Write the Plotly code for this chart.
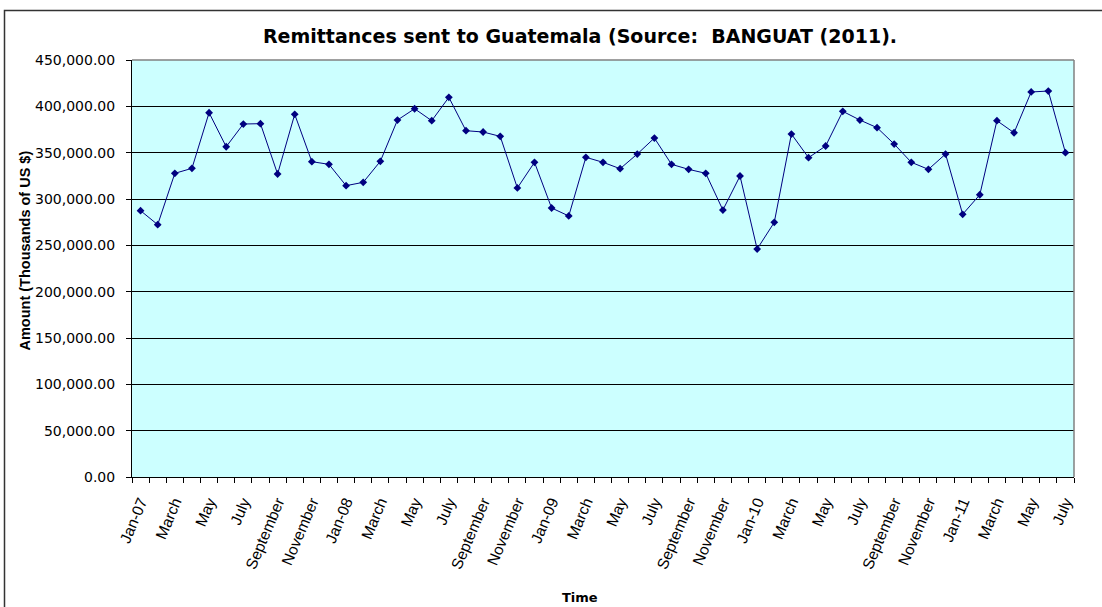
import plotly.graph_objects as go

# Monthly remittances, January 2007 to July 2011 (thousands of US $)
months = [
    "Jan-07", "February", "March", "April", "May", "June", "July", "August",
    "September", "October", "November", "December",
    "Jan-08", "February", "March", "April", "May", "June", "July", "August",
    "September", "October", "November", "December",
    "Jan-09", "February", "March", "April", "May", "June", "July", "August",
    "September", "October", "November", "December",
    "Jan-10", "February", "March", "April", "May", "June", "July", "August",
    "September", "October", "November", "December",
    "Jan-11", "February", "March", "April", "May", "June", "July",
]
amounts = [
    287400, 272300, 327700, 333100, 393100, 356400, 380900, 381300,
    327000, 391400, 340300, 337400,
    314400, 318000, 340700, 385200, 397400, 384500, 409700, 373700,
    372300, 367600, 311900, 339600,
    290300, 281700, 345000, 339600, 332700, 348500, 365800, 337400,
    332000, 327700, 288100, 324800,
    246000, 274800, 370100, 344600, 357200, 394600, 385200, 377000,
    359300, 339600, 332000, 348500,
    283500, 304600, 384500, 371500, 415500, 416500, 350000,
]

ARIAL = "Arial, Liberation Sans, sans-serif"
WIDE = "DejaVu Sans, Arial, sans-serif"
idx = list(range(len(months)))
label_idx = idx[::2]
label_txt = [months[i] for i in label_idx]
boundaries = [i - 0.5 for i in range(len(months) + 1)]
xrange_ = [-0.5, len(months) - 0.5]

# plot area in pixels: x 132..1074, y 60..477
PL, PR, PT, PB = 132, 1074, 60, 477
PW, PH = PR - PL, PB - PT

fig = go.Figure()
fig.add_trace(go.Scatter(
    x=idx, y=amounts, mode="lines+markers",
    line=dict(color="#000080", width=1),
    marker=dict(symbol="diamond", size=6, color="#000080"),
    showlegend=False, hoverinfo="skip",
))
# helper trace so the label axis is rendered
fig.add_trace(go.Scatter(
    x=[0], y=[0], xaxis="x2", mode="markers",
    marker=dict(opacity=0), showlegend=False, hoverinfo="skip",
))

fig.update_layout(
    width=1102, height=607,
    margin=dict(l=PL, r=1102 - PR, t=PT, b=607 - PB),
    paper_bgcolor="white",
    plot_bgcolor="#CCFFFF",
    font=dict(family=ARIAL, color="black", size=13),
    title=dict(
        text="<b>Remittances sent to Guatemala (Source:  BANGUAT (2011).</b>",
        font=dict(family=WIDE, size=19, color="black"),
        x=580 / 1102, xref="container", xanchor="center",
        y=1 - 36 / 607, yref="container", yanchor="middle",
    ),
    xaxis=dict(
        range=xrange_, tickmode="array", tickvals=boundaries,
        ticktext=[""] * len(boundaries),
        ticks="outside", ticklen=5, tickcolor="black", tickwidth=1,
        showgrid=False, zeroline=False,
        showline=True, linecolor="black", linewidth=1,
    ),
    xaxis2=dict(
        range=xrange_, overlaying="x", side="bottom", matches="x",
        tickmode="array", tickvals=label_idx, ticktext=label_txt,
        tickangle=-67, ticks="", showgrid=False, zeroline=False,
        showline=False, ticklabelstandoff=12,
        tickfont=dict(family=ARIAL, size=15.5, color="black"),
    ),
    yaxis=dict(
        range=[0, 450000], tickmode="linear", tick0=0, dtick=50000,
        tickformat=",.2f", ticks="outside", ticklen=5, tickcolor="black",
        showgrid=True, gridcolor="black", gridwidth=1, zeroline=False,
        showline=True, linecolor="black", linewidth=1,
        ticklabelstandoff=8,
        tickfont=dict(family=WIDE, size=14, color="black"),
    ),
    annotations=[
        dict(text="<b>Amount (Thousands of US $)</b>", textangle=-90,
             xref="paper", yref="paper", x=(24.5 - PL) / PW,
             y=(PB - 251) / PH,
             xanchor="center", yanchor="middle", showarrow=False,
             font=dict(family=ARIAL, size=14.5, color="black")),
        dict(text="<b>Time</b>",
             xref="paper", yref="paper", x=(580 - PL) / PW,
             y=(PB - 597) / PH, xanchor="center", yanchor="middle",
             showarrow=False, font=dict(family=WIDE, size=13, color="black")),
    ],
    shapes=[
        # plot area frame (top and right edges)
        dict(type="line", xref="paper", yref="paper", x0=0, x1=1, y0=1, y1=1,
             line=dict(color="#808080", width=1.5), layer="above"),
        dict(type="line", xref="paper", yref="paper", x0=1, x1=1, y0=0, y1=1,
             line=dict(color="#808080", width=1.5), layer="above"),
        # chart area border
        dict(type="rect", xref="paper", yref="paper",
             x0=(4.5 - PL) / PW, x1=1.2, y0=-0.6, y1=(PB - 10.5) / PH,
             line=dict(color="#333333", width=1.5), layer="above"),
    ],
)

fig.write_html("out.html")
